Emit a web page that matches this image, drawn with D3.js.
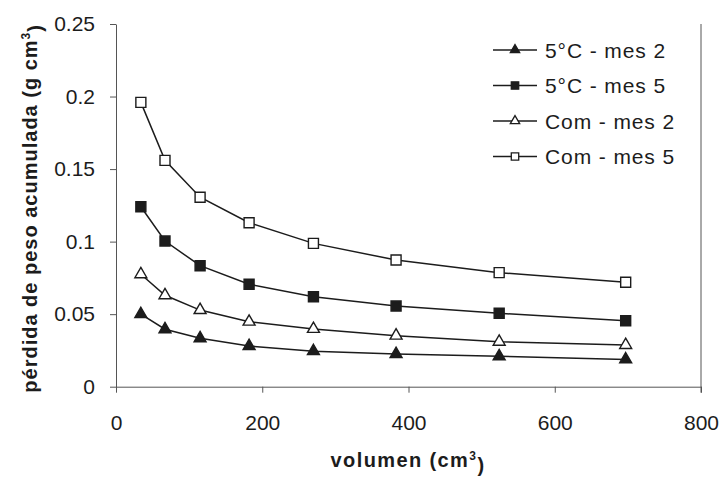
<!DOCTYPE html>
<html>
<head>
<meta charset="utf-8">
<script src="https://cdn.jsdelivr.net/npm/d3@7"></script>
<style>
  body { margin: 0; background: #fff; }
  svg { font-family: "Liberation Sans", Arial, sans-serif; }
</style>
</head>
<body>
<div id="chart"></div>
<script>
const volumes = [34, 67, 115, 182, 270, 383, 524, 697];
const seriesNames = ["5°C - mes 2", "5°C - mes 5", "Com - mes 2", "Com - mes 5"];
const frio2 = [0.050, 0.0396, 0.0334, 0.028, 0.0245, 0.0225, 0.021, 0.0188];
const frio5 = [0.124, 0.1004, 0.0834, 0.0706, 0.062, 0.0556, 0.0506, 0.0455];
const com2 = [0.0775, 0.063, 0.0528, 0.0448, 0.0398, 0.0352, 0.031, 0.0287];
const com5 = [0.196, 0.156, 0.1306, 0.113, 0.0988, 0.0873, 0.0786, 0.072];
const yTicks = [0, 0.05, 0.1, 0.15, 0.2, 0.25];
const xTicks = [0, 200, 400, 600, 800];

const series = [
  { name: seriesNames[0], values: frio2, shape: d3.symbolTriangle, filled: true },
  { name: seriesNames[1], values: frio5, shape: d3.symbolSquare, filled: true },
  { name: seriesNames[2], values: com2, shape: d3.symbolTriangle, filled: false },
  { name: seriesNames[3], values: com5, shape: d3.symbolSquare, filled: false }
];

const width = 724, height = 478;
const ink = "#1c1c1c";

const svg = d3.select("#chart").append("svg")
  .attr("width", width)
  .attr("height", height);

const x = d3.scaleLinear().domain([0, 800]).range([116, 701]);
const y = d3.scaleLinear().domain([0, 0.25]).range([386.7, 24]);

// axes
const yAxis = svg.append("g")
  .attr("transform", `translate(${x(0)},0)`)
  .call(d3.axisLeft(y).tickValues(yTicks).tickFormat(d => String(d)).tickSize(6).tickSizeOuter(0).tickPadding(15));

const xAxis = svg.append("g")
  .attr("transform", `translate(0,${y(0)})`)
  .call(d3.axisBottom(x).tickValues(xTicks).tickFormat(d => String(d)).tickSize(6).tickSizeOuter(0).tickPadding(22));

[yAxis, xAxis].forEach(g => {
  g.selectAll("path, line").attr("stroke", "#555").attr("stroke-width", 1);
  g.selectAll("text").attr("fill", ink).style("font-size", "21px").style("font-family", "'Liberation Sans', Arial, sans-serif");
});

// right frame line
svg.append("line")
  .attr("x1", x(800)).attr("x2", x(800))
  .attr("y1", y(0.25)).attr("y2", y(0) + 6)
  .attr("stroke", "#555").attr("stroke-width", 1);

// lines
const line = d3.line()
  .x((d, i) => x(volumes[i]))
  .y(d => y(d));

series.forEach(s => {
  svg.append("path")
    .datum(s.values)
    .attr("fill", "none")
    .attr("stroke", ink)
    .attr("stroke-width", 1.5)
    .attr("d", line);

  svg.append("g")
    .selectAll("path")
    .data(s.values)
    .join("path")
    .attr("transform", (d, i) => `translate(${x(volumes[i])},${y(d)})`)
    .attr("d", d3.symbol().type(s.shape).size(s.shape === d3.symbolSquare ? 100 : 62))
    .attr("fill", s.filled ? ink : "#fff")
    .attr("stroke", ink)
    .attr("stroke-width", 1.4);
});

// legend
const legend = svg.append("g");
const legendRows = legend.selectAll("g")
  .data(series)
  .join("g")
  .attr("transform", (d, i) => `translate(493,${50 + i * 35.5})`);

legendRows.append("line")
  .attr("x1", 0).attr("x2", 44)
  .attr("stroke", ink).attr("stroke-width", 1.5);

legendRows.append("path")
  .attr("transform", "translate(22,0)")
  .attr("d", d => d3.symbol().type(d.shape).size(d.shape === d3.symbolSquare ? 55 : 38)())
  .attr("fill", d => d.filled ? ink : "#fff")
  .attr("stroke", ink)
  .attr("stroke-width", 1.3);

legendRows.append("text")
  .attr("x", 52)
  .attr("dy", "0.36em")
  .attr("fill", ink)
  .style("font-size", "21px")
  .style("letter-spacing", "0.9px")
  .text(d => d.name);

// axis titles
const yTitle = svg.append("text")
  .attr("transform", `translate(37,${(y(0) + 10) / 2 + 10}) rotate(-90)`)
  .attr("text-anchor", "middle")
  .attr("fill", ink)
  .style("font-size", "20px")
  .style("font-weight", "bold")
  .style("letter-spacing", "1px");
yTitle.append("tspan").text("pérdida de peso acumulada (g cm");
yTitle.append("tspan").attr("dy", "-0.6em").style("font-size", "12px").text("3");
yTitle.append("tspan").attr("dy", "0.6em").text(")");

const xTitle = svg.append("text")
  .attr("x", 408)
  .attr("y", 467)
  .attr("text-anchor", "middle")
  .attr("fill", ink)
  .style("font-size", "20px")
  .style("font-weight", "bold")
  .style("letter-spacing", "1.4px");
xTitle.append("tspan").text("volumen (cm");
xTitle.append("tspan").attr("dy", "-0.6em").style("font-size", "12px").text("3");
xTitle.append("tspan").attr("dy", "0.6em").text(")");
</script>
</body>
</html>
